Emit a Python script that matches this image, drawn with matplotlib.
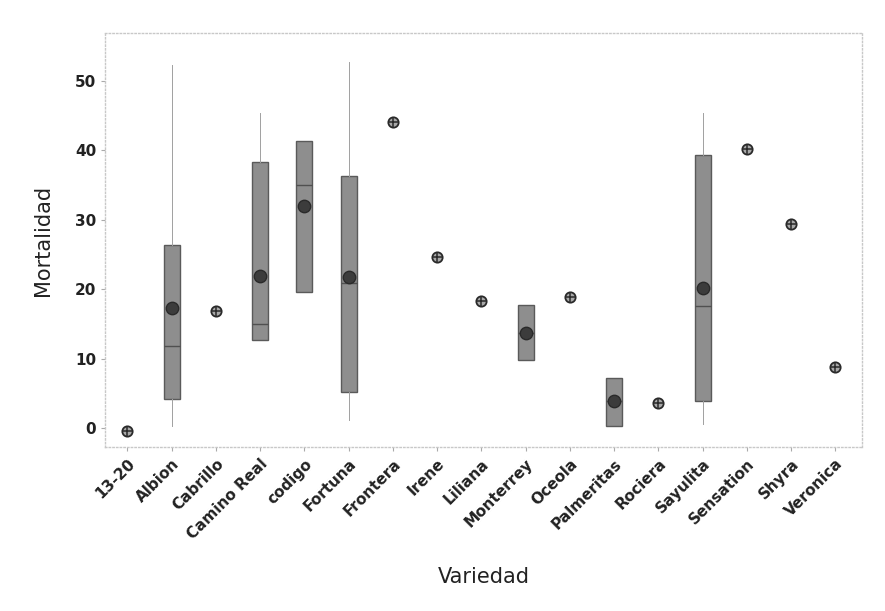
import matplotlib.pyplot as plt

# Datos (Mortalidad por variedad)
variedades = ["13-20", "Albion", "Cabrillo", "Camino Real", "codigo", "Fortuna",
              "Frontera", "Irene", "Liliana", "Monterrey", "Oceola", "Palmeritas",
              "Rociera", "Sayulita", "Sensation", "Shyra", "Veronica"]
medias = [-0.3, 17.3, 16.9, 21.9, 32.0, 21.8, 44.1, 24.6, 18.3, 13.8, 18.9, 4.0,
          3.6, 20.2, 40.2, 29.4, 8.9]

# Variedades con caja (varias observaciones)
con_caja = ["Albion", "Camino Real", "codigo", "Fortuna", "Monterrey", "Palmeritas", "Sayulita"]
q1 = [4.3, 12.7, 19.6, 5.2, 9.8, 0.3, 4.0]
mediana = [11.8, 15.0, 35.0, 21.0, 13.8, 4.0, 17.6]
q3 = [26.4, 38.3, 41.4, 36.3, 17.7, 7.3, 39.3]
bigote_inf = [0.3, 12.7, 19.6, 1.2, 9.8, 0.3, 0.7]
bigote_sup = [52.3, 45.4, 41.4, 52.7, 17.7, 7.3, 45.4]

fig = plt.figure(figsize=(8.85, 6.11), dpi=100)
ax = fig.add_axes([0.119, 0.268, 0.855, 0.678])

pos = {v: i for i, v in enumerate(variedades)}
stats = []
for k, v in enumerate(con_caja):
    stats.append({"label": v, "q1": q1[k], "med": mediana[k], "q3": q3[k],
                  "whislo": bigote_inf[k], "whishi": bigote_sup[k], "fliers": []})

ax.bxp(stats, positions=[pos[v] for v in con_caja], widths=0.36,
       showcaps=False, patch_artist=True,
       boxprops=dict(facecolor="#8e8e8e", edgecolor="#5a5a5a", linewidth=1.0),
       medianprops=dict(color="#505050", linewidth=1.0),
       whiskerprops=dict(color="#a0a0a0", linewidth=0.7))

# medias: puntos oscuros sobre cajas, simbolo con cruz para valores sueltos
xs_caja = [pos[v] for v in con_caja]
ys_caja = [medias[pos[v]] for v in con_caja]
ax.scatter(xs_caja, ys_caja, s=80, color="#3c3c3c", edgecolor="#2a2a2a", zorder=4)

solos = [v for v in variedades if v not in con_caja]
xs_solo = [pos[v] for v in solos]
ys_solo = [medias[pos[v]] for v in solos]
ax.scatter(xs_solo, ys_solo, s=55, color="#a8a8a8", edgecolor="#2a2a2a", linewidth=1.3, zorder=4)
ax.scatter(xs_solo, ys_solo, s=55, marker="+", color="#2a2a2a", linewidth=1.1, zorder=5)

ax.set_xlim(-0.5, 16.6)
ax.set_ylim(-2.7, 56.9)
ax.set_yticks([0, 10, 20, 30, 40, 50])
ax.set_xticks(range(len(variedades)))
ax.set_xticklabels(variedades, rotation=45, ha="right", rotation_mode="anchor",
                   fontsize=11, fontweight="semibold", color="#222222")
for lab in ax.get_yticklabels():
    lab.set_fontsize(11)
    lab.set_fontweight("bold")
    lab.set_color("#222222")
ax.tick_params(axis="both", length=3, color="#aaaaaa")

for s in ax.spines.values():
    s.set_color("#c8c8c8")
    s.set_linestyle(":")
    s.set_linewidth(1.0)

ax.set_ylabel("Mortalidad", fontsize=15, color="#222222", labelpad=16)
ax.set_xlabel("Variedad", fontsize=15, color="#222222", labelpad=18)

plt.savefig("out.png", dpi=100)
